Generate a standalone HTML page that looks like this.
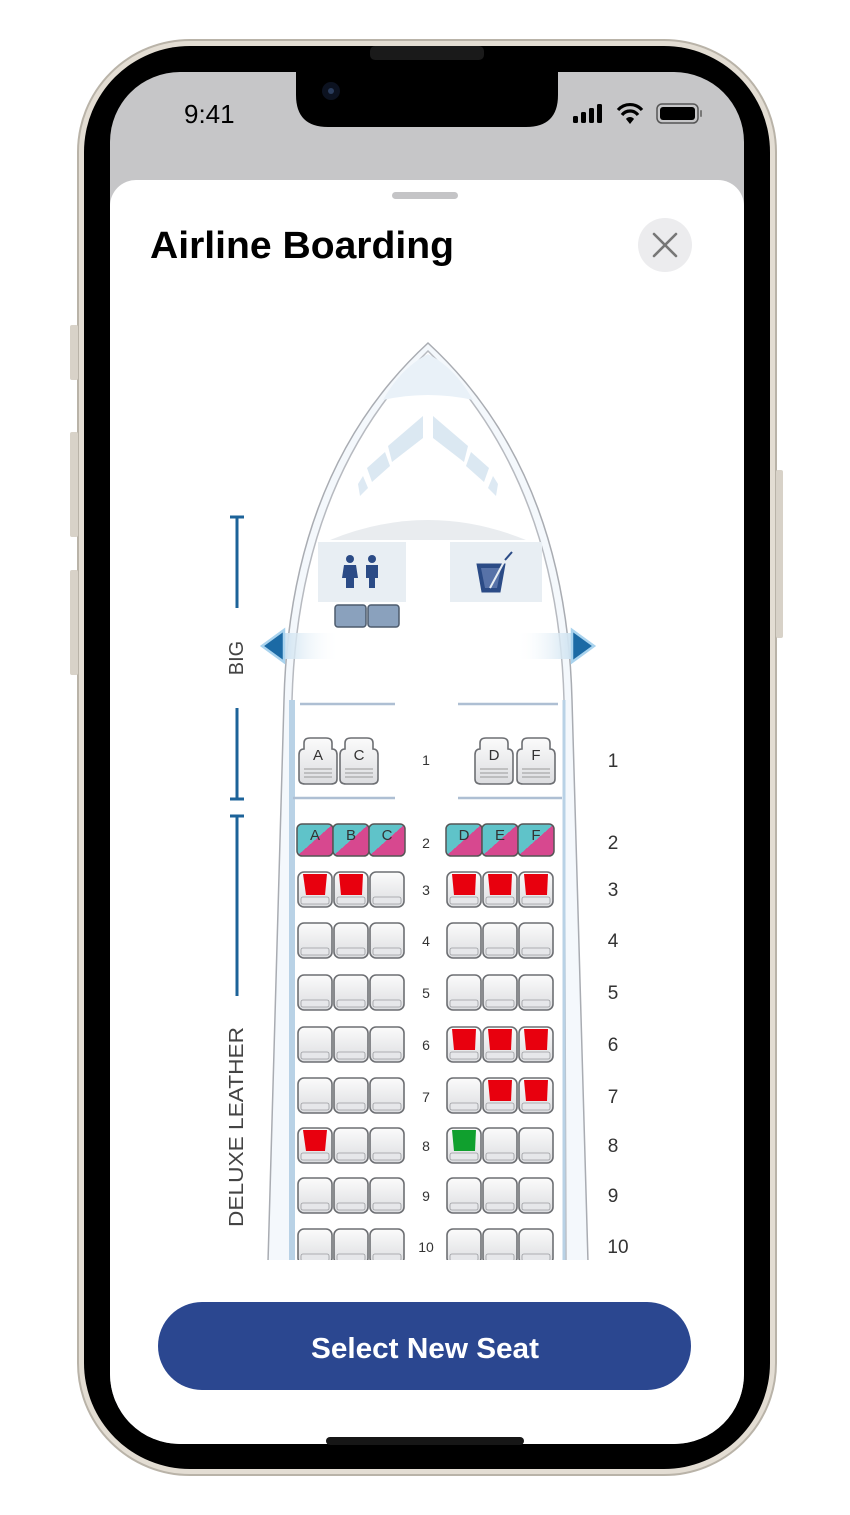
<!DOCTYPE html>
<html><head><meta charset="utf-8"><style>
html,body{margin:0;padding:0;background:#fff;width:850px;height:1515px;overflow:hidden}
svg{display:block}
text{font-family:"Liberation Sans",sans-serif}
</style></head><body>
<svg width="850" height="1515" viewBox="0 0 850 1515" xmlns="http://www.w3.org/2000/svg">
<defs>
  <linearGradient id="seatg" x1="0" y1="0" x2="0" y2="1">
    <stop offset="0" stop-color="#fbfbfb"/><stop offset="1" stop-color="#dcdde0"/>
  </linearGradient>
  <linearGradient id="diag" x1="0" y1="0" x2="1" y2="1">
    <stop offset="0.5" stop-color="#5fc3c9"/><stop offset="0.5" stop-color="#d7488f"/>
  </linearGradient>
  <linearGradient id="armL" x1="0" y1="0" x2="1" y2="0">
    <stop offset="0" stop-color="#cfe3f1"/><stop offset="1" stop-color="#ffffff" stop-opacity="0"/>
  </linearGradient>
  <linearGradient id="armR" x1="1" y1="0" x2="0" y2="0">
    <stop offset="0" stop-color="#cfe3f1"/><stop offset="1" stop-color="#ffffff" stop-opacity="0"/>
  </linearGradient>
  <symbol id="seat" viewBox="0 0 36 37">
    <rect x="1" y="1" width="34" height="35" rx="6" fill="url(#seatg)" stroke="#6d6f73" stroke-width="1.6"/>
    <rect x="4" y="26" width="28" height="7" rx="2" fill="#e6e7ea" stroke="#9a9ca0" stroke-width="0.8"/>
  </symbol>
  <symbol id="seat1" viewBox="0 0 40 48">
    <path d="M6 6 Q6 1 12 1 H28 Q34 1 34 6 V12 Q39 12 39 18 V42 Q39 47 33 47 H7 Q1 47 1 42 V18 Q1 12 6 12Z" fill="url(#seatg)" stroke="#6d6f73" stroke-width="1.6"/>
    <line x1="6" y1="32" x2="34" y2="32" stroke="#999" stroke-width="1"/>
    <line x1="6" y1="36" x2="34" y2="36" stroke="#999" stroke-width="1"/>
    <line x1="6" y1="40" x2="34" y2="40" stroke="#999" stroke-width="1"/>
  </symbol>
  <clipPath id="scr"><rect x="110" y="72" width="634" height="1372" rx="70"/></clipPath>
  <clipPath id="mapclip"><rect x="150" y="318" width="560" height="942"/></clipPath>
</defs>

<!-- phone body -->
<rect x="78" y="40" width="698" height="1435" rx="112" fill="#e3ddd3" stroke="#b9b3a8" stroke-width="2"/>
<rect x="84" y="46" width="686" height="1423" rx="106" fill="#000"/>
<rect x="70" y="325" width="8" height="55" rx="2" fill="#d8d2c8"/>
<rect x="70" y="432" width="8" height="105" rx="2" fill="#d8d2c8"/>
<rect x="70" y="570" width="8" height="105" rx="2" fill="#d8d2c8"/>
<rect x="776" y="470" width="7" height="168" rx="2" fill="#d8d2c8"/>
<rect x="370" y="46" width="114" height="14" rx="5" fill="#1a1a1a"/>

<g clip-path="url(#scr)">
  <rect x="110" y="72" width="634" height="1372" fill="#c6c6c8"/>
  <rect x="110" y="180" width="634" height="1290" rx="26" fill="#fff"/>
</g>
<!-- notch -->
<path d="M296 72 H558 V95 Q558 127 526 127 H328 Q296 127 296 95Z" fill="#000"/>
<circle cx="331" cy="91" r="9" fill="#0c1220"/>
<circle cx="331" cy="91" r="3" fill="#2a3c5c"/>

<!-- status bar -->
<text x="184" y="123" font-size="26" font-weight="500" fill="#000">9:41</text>
<rect x="573" y="116" width="5" height="7" rx="1.5" fill="#000"/>
<rect x="581" y="112" width="5" height="11" rx="1.5" fill="#000"/>
<rect x="589" y="108" width="5" height="15" rx="1.5" fill="#000"/>
<rect x="597" y="104" width="5" height="19" rx="1.5" fill="#000"/>
<path d="M618 110 A16 16 0 0 1 642 110" fill="none" stroke="#000" stroke-width="3.2"/>
<path d="M622 115 A10 10 0 0 1 638 115" fill="none" stroke="#000" stroke-width="3.2"/>
<path d="M626 119 L630 124 L634 119 A5 5 0 0 0 626 119Z" fill="#000"/>
<rect x="657" y="104" width="41" height="19" rx="5" fill="none" stroke="#555" stroke-width="1.5"/>
<rect x="660" y="107" width="35" height="13" rx="3" fill="#000"/>
<rect x="700" y="110" width="2" height="7" rx="1" fill="#777"/>

<!-- sheet header -->
<rect x="392" y="192" width="66" height="7" rx="3.5" fill="#c4c4c6"/>
<text x="150" y="258" font-size="38" font-weight="bold" fill="#000" textLength="304" lengthAdjust="spacingAndGlyphs">Airline Boarding</text>
<circle cx="665" cy="245" r="27" fill="#ececee"/>
<path d="M654 234 L676 256 M676 234 L654 256" stroke="#777" stroke-width="2.6" stroke-linecap="round"/>

<!-- seat map -->
<g clip-path="url(#mapclip)">
  <!-- fuselage -->
  <path d="M268 1262 L284 700 Q290 470 428 343 Q566 470 572 700 L588 1262Z" fill="#f4f8fc" stroke="#a9acb2" stroke-width="1.5"/>
  <path d="M290 1262 L292 700 Q298 480 428 351 Q558 480 564 700 L566 1262Z" fill="#fff" stroke="#b7bac0" stroke-width="1.5"/>
  <path d="M292 700 L292 1262" stroke="#b9d2e6" stroke-width="6"/>
  <path d="M564 700 L564 1262" stroke="#b9d2e6" stroke-width="3"/>
  <!-- cockpit -->
  <path d="M383 400 Q428 390 473 400 Q455 368 428 354 Q401 368 383 400Z" fill="#e9f1f8"/>
  <path d="M423 416 L423 438 L392 462 L388 446Z" fill="#dbe8f2"/>
  <path d="M433 416 L433 438 L464 462 L468 446Z" fill="#dbe8f2"/>
  <path d="M385 452 L390 466 L372 482 L367 468Z" fill="#dbe8f2"/>
  <path d="M471 452 L466 466 L484 482 L489 468Z" fill="#dbe8f2"/>
  <path d="M363 476 L368 488 L360 496 L358 484Z" fill="#dde9f3"/>
  <path d="M493 476 L488 488 L496 496 L498 484Z" fill="#dde9f3"/>
  <path d="M330 540 Q428 500 526 540 Z" fill="#e9ecef"/>
  <rect x="318" y="542" width="88" height="60" fill="#e8eef3"/>
  <rect x="450" y="542" width="92" height="60" fill="#e8eef3"/>
  <!-- lavatory icon -->
  <circle cx="350" cy="559" r="4" fill="#2b4b86"/>
  <path d="M344 565 H356 L358 578 H354 V588 H346 V578 H342Z" fill="#2b4b86"/>
  <circle cx="372" cy="559" r="4" fill="#2b4b86"/>
  <path d="M366 565 H378 V578 H375 V588 H369 V578 H366Z" fill="#2b4b86"/>
  <!-- drink icon -->
  <path d="M477 564 H505 L500 592 H482Z" fill="#2b4b86" stroke="#2b4b86" stroke-width="1"/>
  <path d="M481 568 H501 L497 588 H485Z" fill="#5772a8"/>
  <path d="M490 588 L505 560 L512 552" stroke="#e8eef3" stroke-width="2" fill="none"/>
  <path d="M505 560 L512 552" stroke="#2b4b86" stroke-width="2" fill="none"/>
  <!-- jump seats -->
  <rect x="335" y="605" width="31" height="22" rx="3" fill="#8aa1bd" stroke="#4d5b6d" stroke-width="1.5"/>
  <rect x="368" y="605" width="31" height="22" rx="3" fill="#8aa1bd" stroke="#4d5b6d" stroke-width="1.5"/>
  <!-- exits -->
  <rect x="284" y="633" width="56" height="26" fill="url(#armL)"/>
  <rect x="516" y="633" width="56" height="26" fill="url(#armR)"/>
  <path d="M284 630 L284 662 L262 646Z" fill="#1b6aa5" stroke="#a9d3ee" stroke-width="2.5"/>
  <path d="M572 630 L572 662 L594 646Z" fill="#1b6aa5" stroke="#a9d3ee" stroke-width="2.5"/>
  <!-- class dividers -->
  <line x1="300" y1="704" x2="395" y2="704" stroke="#aebfd3" stroke-width="2.5"/>
  <line x1="458" y1="704" x2="558" y2="704" stroke="#aebfd3" stroke-width="2.5"/>
  <line x1="293" y1="798" x2="395" y2="798" stroke="#aebfd3" stroke-width="2.5"/>
  <line x1="458" y1="798" x2="562" y2="798" stroke="#aebfd3" stroke-width="2.5"/>

  <!-- row 1 -->
  <use href="#seat1" x="298" y="737" width="40" height="48"/>
  <use href="#seat1" x="339" y="737" width="40" height="48"/>
  <use href="#seat1" x="474" y="737" width="40" height="48"/>
  <use href="#seat1" x="516" y="737" width="40" height="48"/>
  <g font-size="15" fill="#333" text-anchor="middle">
    <text x="318" y="760">A</text><text x="359" y="760">C</text>
    <text x="494" y="760">D</text><text x="536" y="760">F</text>
  </g>

  <!-- row 2 -->
  <g stroke="#555" stroke-width="1.5">
    <rect x="297" y="824" width="36" height="32" rx="5" fill="url(#diag)"/>
    <rect x="333" y="824" width="36" height="32" rx="5" fill="url(#diag)"/>
    <rect x="369" y="824" width="36" height="32" rx="5" fill="url(#diag)"/>
    <rect x="446" y="824" width="36" height="32" rx="5" fill="url(#diag)"/>
    <rect x="482" y="824" width="36" height="32" rx="5" fill="url(#diag)"/>
    <rect x="518" y="824" width="36" height="32" rx="5" fill="url(#diag)"/>
  </g>
  <g font-size="15" fill="#333" text-anchor="middle">
    <text x="315" y="840">A</text><text x="351" y="840">B</text><text x="387" y="840">C</text>
    <text x="464" y="840">D</text><text x="500" y="840">E</text><text x="536" y="840">F</text>
  </g>

  <!-- rows 3-10 seats -->
  <g>
    <use href="#seat" x="297" y="871" width="36" height="37"/><use href="#seat" x="333" y="871" width="36" height="37"/><use href="#seat" x="369" y="871" width="36" height="37"/>
    <use href="#seat" x="446" y="871" width="36" height="37"/><use href="#seat" x="482" y="871" width="36" height="37"/><use href="#seat" x="518" y="871" width="36" height="37"/>
    <use href="#seat" x="297" y="922" width="36" height="37"/><use href="#seat" x="333" y="922" width="36" height="37"/><use href="#seat" x="369" y="922" width="36" height="37"/>
    <use href="#seat" x="446" y="922" width="36" height="37"/><use href="#seat" x="482" y="922" width="36" height="37"/><use href="#seat" x="518" y="922" width="36" height="37"/>
    <use href="#seat" x="297" y="974" width="36" height="37"/><use href="#seat" x="333" y="974" width="36" height="37"/><use href="#seat" x="369" y="974" width="36" height="37"/>
    <use href="#seat" x="446" y="974" width="36" height="37"/><use href="#seat" x="482" y="974" width="36" height="37"/><use href="#seat" x="518" y="974" width="36" height="37"/>
    <use href="#seat" x="297" y="1026" width="36" height="37"/><use href="#seat" x="333" y="1026" width="36" height="37"/><use href="#seat" x="369" y="1026" width="36" height="37"/>
    <use href="#seat" x="446" y="1026" width="36" height="37"/><use href="#seat" x="482" y="1026" width="36" height="37"/><use href="#seat" x="518" y="1026" width="36" height="37"/>
    <use href="#seat" x="297" y="1077" width="36" height="37"/><use href="#seat" x="333" y="1077" width="36" height="37"/><use href="#seat" x="369" y="1077" width="36" height="37"/>
    <use href="#seat" x="446" y="1077" width="36" height="37"/><use href="#seat" x="482" y="1077" width="36" height="37"/><use href="#seat" x="518" y="1077" width="36" height="37"/>
    <use href="#seat" x="297" y="1127" width="36" height="37"/><use href="#seat" x="333" y="1127" width="36" height="37"/><use href="#seat" x="369" y="1127" width="36" height="37"/>
    <use href="#seat" x="446" y="1127" width="36" height="37"/><use href="#seat" x="482" y="1127" width="36" height="37"/><use href="#seat" x="518" y="1127" width="36" height="37"/>
    <use href="#seat" x="297" y="1177" width="36" height="37"/><use href="#seat" x="333" y="1177" width="36" height="37"/><use href="#seat" x="369" y="1177" width="36" height="37"/>
    <use href="#seat" x="446" y="1177" width="36" height="37"/><use href="#seat" x="482" y="1177" width="36" height="37"/><use href="#seat" x="518" y="1177" width="36" height="37"/>
    <use href="#seat" x="297" y="1228" width="36" height="37"/><use href="#seat" x="333" y="1228" width="36" height="37"/><use href="#seat" x="369" y="1228" width="36" height="37"/>
    <use href="#seat" x="446" y="1228" width="36" height="37"/><use href="#seat" x="482" y="1228" width="36" height="37"/><use href="#seat" x="518" y="1228" width="36" height="37"/>
  </g>
  <!-- occupied -->
  <g fill="#e8000e">
    <path d="M303 874 H327 L325 895 H306Z"/><path d="M339 874 H363 L362 895 H341Z"/>
    <path d="M452 874 H476 L475 895 H454Z"/><path d="M488 874 H512 L511 895 H490Z"/><path d="M524 874 H548 L547 895 H526Z"/>
    <path d="M452 1029 H476 L475 1050 H454Z"/><path d="M488 1029 H512 L511 1050 H490Z"/><path d="M524 1029 H548 L547 1050 H526Z"/>
    <path d="M488 1080 H512 L511 1101 H490Z"/><path d="M524 1080 H548 L547 1101 H526Z"/>
    <path d="M303 1130 H327 L325 1151 H306Z"/>
  </g>
  <path d="M452 1130 H476 L475 1151 H454Z" fill="#10a02e"/>

  <!-- row numbers -->
  <g font-size="14" fill="#333" text-anchor="middle">
    <text x="426" y="765">1</text><text x="426" y="848">2</text><text x="426" y="895">3</text>
    <text x="426" y="946">4</text><text x="426" y="998">5</text><text x="426" y="1050">6</text>
    <text x="426" y="1102">7</text><text x="426" y="1151">8</text><text x="426" y="1201">9</text>
    <text x="426" y="1252">10</text>
  </g>
</g>
<g font-size="19" fill="#333" text-anchor="middle">
  <text x="613" y="767">1</text><text x="613" y="849">2</text><text x="613" y="896">3</text>
  <text x="613" y="947">4</text><text x="613" y="999">5</text><text x="613" y="1051">6</text>
  <text x="613" y="1103">7</text><text x="613" y="1152">8</text><text x="613" y="1202">9</text>
  <text x="618" y="1253">10</text>
</g>
<!-- side labels -->
<g stroke="#1d6399" stroke-width="3">
  <line x1="237" y1="516" x2="237" y2="608"/><line x1="230" y1="517" x2="244" y2="517"/>
  <line x1="237" y1="708" x2="237" y2="800"/><line x1="230" y1="799" x2="244" y2="799"/>
  <line x1="237" y1="815" x2="237" y2="996"/><line x1="230" y1="816" x2="244" y2="816"/>
</g>
<g fill="#444" font-size="20" text-anchor="middle">
  <text transform="translate(243,658) rotate(-90)">BIG</text>
  <text transform="translate(243,1127) rotate(-90)" textLength="200" lengthAdjust="spacingAndGlyphs">DELUXE LEATHER</text>
</g>

<!-- button -->
<rect x="158" y="1302" width="533" height="88" rx="44" fill="#2b4790"/>
<text x="425" y="1358" font-size="29" font-weight="bold" fill="#fff" text-anchor="middle" textLength="228" lengthAdjust="spacingAndGlyphs">Select New Seat</text>
<rect x="326" y="1437" width="198" height="8" rx="4" fill="#161616"/>
</svg>
</body></html>
